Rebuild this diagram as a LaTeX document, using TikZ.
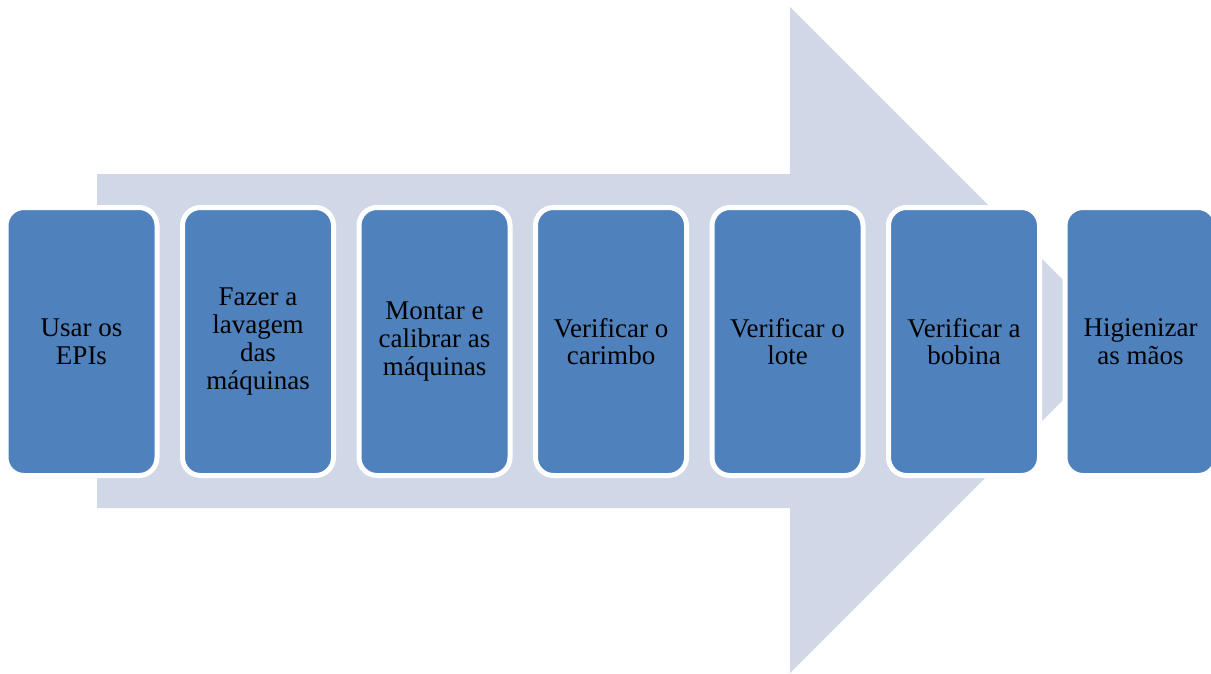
\documentclass[tikz,border=0pt]{standalone}
\usepackage{fontspec}
\setmainfont{Liberation Serif}
\definecolor{arrowfill}{HTML}{D0D8E8}
\definecolor{boxfill}{HTML}{4F81BD}
\begin{document}
\begin{tikzpicture}[x=1pt,y=-1pt,
  stepbox/.style={rectangle, rounded corners=18pt, fill=boxfill, draw=white, line width=5pt,
    minimum width=151pt, minimum height=268pt, inner sep=0pt, align=center,
    font=\fontsize{27}{27.7}\selectfont, text=black}]
\useasboundingbox (0,0) rectangle (1211,673);
\fill[arrowfill] (97,174) -- (790,174) -- (790,7) -- (1123,340) -- (790,673) -- (790,508) -- (97,508) -- cycle;
\node[stepbox] (b1) at (81.5,341.5) {Usar os\\EPIs};
\node[stepbox] (b2) at (258,341.5) {Fazer a\\lavagem\\das\\máquinas};
\node[stepbox] (b3) at (434.5,341.5) {Montar e\\calibrar as\\máquinas};
\node[stepbox] (b4) at (611,341.5) {Verificar o\\carimbo};
\node[stepbox] (b5) at (787.5,341.5) {Verificar o\\lote};
\node[stepbox] (b6) at (964,341.5) {Verificar a\\bobina};
\node[stepbox] (b7) at (1140.5,341.5) {Higienizar\\as mãos};
\end{tikzpicture}
\end{document}
